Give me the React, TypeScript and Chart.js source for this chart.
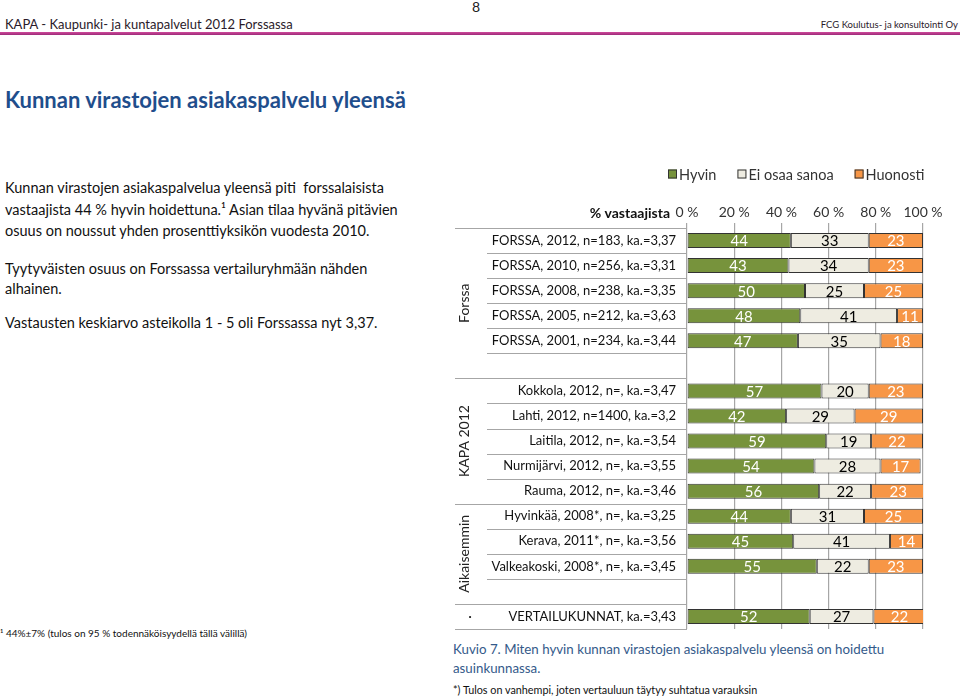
import React, { useEffect, useRef } from "react";
import { Chart, registerables } from "chart.js";

Chart.register(...registerables);

const categories = [
  "FORSSA, 2012, n=183, ka.=3,37",
  "FORSSA, 2010, n=256, ka.=3,31",
  "FORSSA, 2008, n=238, ka.=3,35",
  "FORSSA, 2005, n=212, ka.=3,63",
  "FORSSA, 2001, n=234, ka.=3,44",
  "",
  "Kokkola, 2012, n=, ka.=3,47",
  "Lahti, 2012, n=1400, ka.=3,2",
  "Laitila, 2012, n=, ka.=3,54",
  "Nurmijärvi, 2012, n=, ka.=3,55",
  "Rauma, 2012, n=, ka.=3,46",
  "Hyvinkää, 2008*, n=, ka.=3,25",
  "Kerava, 2011*, n=, ka.=3,56",
  "Valkeakoski, 2008*, n=, ka.=3,45",
  "",
  "VERTAILUKUNNAT, ka.=3,43",
];

const hyvin = [44, 43, 50, 48, 47, null, 57, 42, 59, 54, 56, 44, 45, 55, null, 52];
const eiOsaa = [33, 34, 25, 41, 35, null, 20, 29, 19, 28, 22, 31, 41, 22, null, 27];
const huonosti = [23, 23, 25, 11, 18, null, 23, 29, 22, 17, 23, 25, 14, 23, null, 22];

const seriesLabels = ["Hyvin", "Ei osaa sanoa", "Huonosti"];
const seriesColors = ["#77933C", "#EEECE1", "#F79646"];
const valueColors = ["#FFFFFF", "#000000", "#FFFFFF"];

const groupLabels = ["Forssa", "KAPA 2012", "Aikaisemmin", "·"];
const groupStarts = [0, 6, 11, 15];
const groupEnds = [5, 10, 14, 15];

const xTickValues = [0, 20, 40, 60, 80, 100];
const axisTitle = "% vastaajista";

const FONT = "Lato, 'Open Sans', sans-serif";

const overlayPlugin = {
  id: "overlay",
  afterDatasetsDraw(chart: any) {
    const ctx = chart.ctx;
    ctx.save();
    ctx.font = `15px ${FONT}`;
    ctx.textAlign = "center";
    ctx.textBaseline = "middle";
    chart.data.datasets.forEach((ds: any, di: number) => {
      const meta = chart.getDatasetMeta(di);
      meta.data.forEach((el: any, i: number) => {
        const v = ds.data[i];
        if (v == null) return;
        const p = el.getProps(["x", "y", "base"], true);
        ctx.fillStyle = valueColors[di];
        ctx.fillText(String(v), (p.x + p.base) / 2, p.y + 1);
      });
    });
    ctx.restore();
  },
  afterDraw(chart: any) {
    const ctx = chart.ctx;
    const ys = chart.scales.y;
    const area = chart.chartArea;
    const step = ys.getPixelForValue(1) - ys.getPixelForValue(0);
    const bound = (i: number) => ys.getPixelForValue(i) - step / 2;
    ctx.save();
    // separator lines in the label column
    ctx.strokeStyle = "#A6A6A6";
    ctx.lineWidth = 1.2;
    const outer = new Set<number>();
    groupStarts.forEach((s) => outer.add(s));
    groupEnds.forEach((e) => outer.add(e + 1));
    for (let i = 0; i <= categories.length; i++) {
      const yy = Math.round(bound(i)) + 0.5;
      const x0 = outer.has(i) ? 455 : 487;
      ctx.beginPath();
      ctx.moveTo(x0, yy);
      ctx.lineTo(area.left, yy);
      ctx.stroke();
    }
    // group labels (rotated)
    ctx.fillStyle = "#222";
    ctx.font = `14px ${FONT}`;
    ctx.textAlign = "center";
    ctx.textBaseline = "middle";
    groupLabels.forEach((g, gi) => {
      const cy = (bound(groupStarts[gi]) + bound(groupEnds[gi] + 1)) / 2;
      ctx.save();
      ctx.translate(g === "·" ? 470 : 464, cy);
      if (g !== "·") ctx.rotate(-Math.PI / 2);
      ctx.fillText(g, 0, 0);
      ctx.restore();
    });
    // axis title
    ctx.font = `bold 14px ${FONT}`;
    ctx.textAlign = "right";
    ctx.fillStyle = "#111";
    ctx.fillText(axisTitle, 670, 213);
    // legend
    ctx.font = `14.5px ${FONT}`;
    ctx.textAlign = "left";
    let x = 668;
    const cy = 174;
    seriesLabels.forEach((lab, i) => {
      ctx.fillStyle = seriesColors[i];
      ctx.fillRect(x, cy - 4.5, 9, 9);
      ctx.strokeStyle = "#333";
      ctx.lineWidth = 1;
      ctx.strokeRect(x + 0.5, cy - 4, 8, 8);
      ctx.fillStyle = "#333";
      ctx.fillText(lab, x + 11, cy + 1);
      x += 11 + ctx.measureText(lab).width + 21;
    });
    ctx.restore();
  },
};

function ChartBlock() {
  const ref = useRef<HTMLCanvasElement>(null);
  useEffect(() => {
    if (!ref.current) return;
    const chart = new Chart(ref.current, {
      type: "bar",
      data: {
        labels: categories,
        datasets: [hyvin, eiOsaa, huonosti].map((d, i) => ({
          label: seriesLabels[i],
          data: d as any,
          backgroundColor: seriesColors[i],
          borderColor: "#333333",
          borderWidth: 1,
          borderSkipped: false,
          barPercentage: 0.6,
          categoryPercentage: 1,
        })),
      },
      options: {
        indexAxis: "y",
        responsive: false,
        animation: false,
        layout: { padding: { left: 0, right: 37, top: 198, bottom: 71 } },
        plugins: { legend: { display: false }, tooltip: { enabled: false } },
        scales: {
          x: {
            position: "top",
            stacked: true,
            min: 0,
            max: 100,
            afterBuildTicks: (s: any) => {
              s.ticks = xTickValues.map((v) => ({ value: v }));
            },
            afterFit: (s: any) => {
              s.height = 30;
            },
            ticks: {
              callback: (v: any) => `${v} %`,
              font: { family: FONT, size: 14 },
              color: "#333",
              padding: 2,
              maxRotation: 0,
            },
            grid: { color: "#A6A6A6", lineWidth: 1.2, drawTicks: true, tickLength: 5 },
            border: { display: false },
          },
          y: {
            stacked: true,
            afterFit: (s: any) => {
              s.width = 687;
            },
            ticks: {
              font: { family: FONT, size: 13 },
              color: "#111",
              padding: 11,
            },
            grid: { display: false, drawTicks: false },
            border: { display: false },
          },
        },
      },
      plugins: [overlayPlugin],
    } as any);
    return () => chart.destroy();
  }, []);
  return (
    <canvas
      ref={ref}
      width={960}
      height={700}
      style={{ position: "absolute", left: 0, top: 0, width: 960, height: 700 }}
    />
  );
}

const abs = (left: number, top: number, extra: any = {}) => ({
  position: "absolute" as const,
  left,
  top,
  whiteSpace: "nowrap" as const,
  ...extra,
});

export default function App() {
  return (
    <div
      style={{
        position: "absolute",
        left: 0,
        top: 0,
        width: 960,
        height: 700,
        background: "#fff",
        fontFamily: FONT,
        color: "#111",
        overflow: "hidden",
      }}
    >
      <div style={abs(472, -2, { fontSize: 14, lineHeight: "18px", color: "#222" })}>8</div>
      <div style={abs(5, 15, { fontSize: 13, lineHeight: "18px", color: "#2a1a2a" })}>
        KAPA - Kaupunki- ja kuntapalvelut 2012 Forssassa
      </div>
      <div style={abs(0, 17, { width: 958, textAlign: "right", fontSize: 9.5, lineHeight: "16px", color: "#2a1a2a" })}>
        FCG Koulutus- ja konsultointi Oy
      </div>
      <div style={abs(0, 32, { width: 960, height: 3, background: "linear-gradient(#d04a9c, #9c2a78)" })} />
      <div style={abs(5, 87, { fontSize: 22, lineHeight: "26px", fontWeight: 700, color: "#1F4E8C" })}>
        Kunnan virastojen asiakaspalvelu yleensä
      </div>
      <div style={abs(5, 177, { fontSize: 14.5, lineHeight: "21.5px" })}>
        Kunnan virastojen asiakaspalvelua yleensä piti&nbsp; forssalaisista
        <br />
        vastaajista 44 % hyvin hoidettuna.¹ Asian tilaa hyvänä pitävien
        <br />
        osuus on noussut yhden prosenttiyksikön vuodesta 2010.
      </div>
      <div style={abs(5, 259, { fontSize: 14.5, lineHeight: "20px" })}>
        Tyytyväisten osuus on Forssassa vertailuryhmään nähden
        <br />
        alhainen.
      </div>
      <div style={abs(5, 313, { fontSize: 14.5, lineHeight: "20px" })}>
        Vastausten keskiarvo asteikolla 1 - 5 oli Forssassa nyt 3,37.
      </div>
      <div style={abs(0, 626, { fontSize: 10, lineHeight: "14px" })}>
        ¹ 44%±7% (tulos on 95 % todennäköisyydellä tällä välillä)
      </div>
      <div style={abs(453, 640, { fontSize: 13.3, lineHeight: "19px", color: "#345A8A" })}>
        Kuvio 7. Miten hyvin kunnan virastojen asiakaspalvelu yleensä on hoidettu
        <br />
        asuinkunnassa.
      </div>
      <div style={abs(453, 683, { fontSize: 10.8, lineHeight: "14px" })}>
        *) Tulos on vanhempi, joten vertauluun täytyy suhtatua varauksin
      </div>
      <ChartBlock />
    </div>
  );
}
